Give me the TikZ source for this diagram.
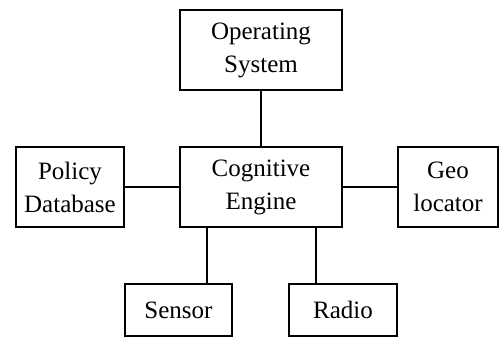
\documentclass[tikz,border=0pt]{standalone}
\usepackage{fontspec}
\setmainfont{Liberation Serif}
\begin{document}
\begin{tikzpicture}[x=1pt,y=-1pt,
  box/.style={draw,line width=1.8pt,inner sep=0pt,align=center,
    font=\fontsize{25}{33}\selectfont},
  conn/.style={line width=1.8pt}]
\useasboundingbox (0,0) rectangle (500,339);
\node[box,minimum width=162,minimum height=80] (os) at (261,50) {Operating\\System};
\node[box,minimum width=162,minimum height=80] (ce) at (261,187) {Cognitive\\Engine};
\node[box,minimum width=108,minimum height=80] (pd) at (70,187) {Policy\\Database};
\node[box,minimum width=100,minimum height=80] (geo) at (448,187) {Geo\\locator};
\node[box,minimum width=107,minimum height=52] (sen) at (178.5,310) {Sensor};
\node[box,minimum width=108,minimum height=52] (rad) at (343,310) {Radio};
\coordinate (s1) at (207,0);
\coordinate (s2) at (316,0);
\draw[conn] (os) -- (ce);
\draw[conn] (pd) -- (ce);
\draw[conn] (ce) -- (geo);
\draw[conn] (ce.south -| s1) -- (sen.north -| s1);
\draw[conn] (ce.south -| s2) -- (rad.north -| s2);
\end{tikzpicture}
\end{document}
